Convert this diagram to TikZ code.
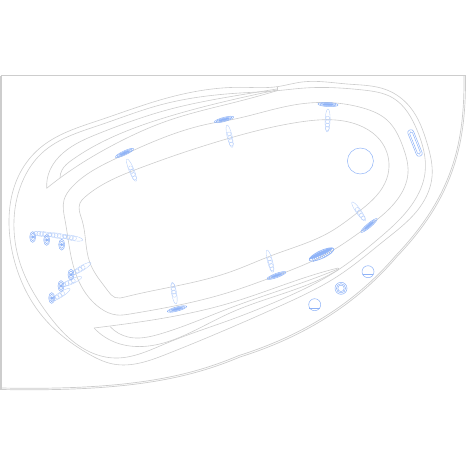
\documentclass[tikz,border=0pt]{standalone}
\usepackage{tikz}
\usepackage{color}
\usetikzlibrary{hobby}
\definecolor{rimgray}{HTML}{CDCDCD}
\definecolor{jetblue}{HTML}{8FB3F7}
\tikzstyle{rim} = [rimgray,line width=0.6pt,use Hobby shortcut]
\tikzstyle{jet} = [jetblue,line width=0.5pt]
\tikzstyle{jetpale} = [jetblue!65,line width=0.35pt]
% bar: x, y, angle, half length
\newcommand{\jetbar}[4]{
\begin{scope}[shift={(#1,#2)},rotate=#3]
\draw[jet] (0,0) ellipse [x radius=#4,y radius=2.1];
\draw[jet] (0,0) ellipse [x radius=#4*0.8,y radius=1.3];
\draw[jet,fill=jetblue] (0,0) ellipse [x radius=#4*0.55,y radius=0.8];
\end{scope}
}
% stem: x, y of the narrow end, angle, length
\newcommand{\jetstem}[4]{
\begin{scope}[shift={(#1,#2)},rotate=#3]
\draw[jetpale] (#4*0.5,0) ellipse [x radius=#4*0.5,y radius=2.5];
\foreach \t in {0.4,0.55,0.7,0.85}
{
\draw[jetpale] (#4*\t,0) circle (2);
}
\end{scope}
}
% head on the side wall: x, y
\newcommand{\jethead}[2]{
\draw[jet] (#1,#2) ellipse [x radius=3,y radius=5.4];
\draw[jet] (#1,#2) ellipse [x radius=2,y radius=3.6];
\draw[jet,fill=jetblue] (#1,#2) circle (1.2);
}
\begin{document}
\begin{tikzpicture}[x=1bp,y=-1bp]
\useasboundingbox (0,0) rectangle (467,467);

% shell
\draw[rimgray,line width=1.5pt] (1,389.5) -- (1,76);
\draw[rimgray,line width=1pt] (1,76) -- (465.5,76);
\draw[rimgray,line width=0.7pt] (465.5,76) .. controls (466,140) and (456,195) .. (397,256.5) .. controls (360,300) and (310,335) .. (240,357) .. controls (190,378) and (130,392) .. (1,389.5);
\draw[rimgray,line width=0.7pt] (464,76) .. controls (464.5,140) and (454.5,194) .. (395.8,255.5) .. controls (359,298.5) and (309,333.5) .. (239,355.5) .. controls (189,376.5) and (130,390.5) .. (1,388);

% outer rim
\draw[rim] ([closed]277,86.7) .. (302,82) .. (347,84) .. (387,90) .. (410,107) .. (427,143) .. (432,177) .. (420,207) .. (385,240) .. (338,276) .. (280,306) .. (230,328) .. (167,354) .. (113,364) .. (87,353) .. (43,317) .. (15,263) .. (9,220) .. (20,173) .. (40,148) .. (100,120) .. (160,100) .. (240,87.3);
% second rim
\draw[rim] ([closed]277,90.7) .. (305,88) .. (363,90) .. (393,98) .. (417,130) .. (425,173) .. (413,203) .. (377,240) .. (338,270) .. (280,300) .. (230,320) .. (167,343) .. (115,358) .. (90,352) .. (47,313) .. (20,263) .. (14,220) .. (24,178) .. (42,153) .. (100,125) .. (160,105) .. (240,93);
% foot well
\draw[rim] ([closed]230,120) .. (300,104) .. (363,108) .. (387,120) .. (403,147) .. (408,173) .. (397,200) .. (363,230) .. (330,252) .. (270,278) .. (230,292) .. (130,314) .. (117,315) .. (100,308) .. (77,277) .. (65,220) .. (64,200) .. (72,187) .. (117,158) .. (213,123);
% floor
\draw[rim] ([closed]230,138) .. (300,122) .. (363,127) .. (380,140) .. (389,167) .. (385,183) .. (357,213) .. (330,232) .. (273,255) .. (230,272) .. (125,297) .. (115,297.5) .. (108,291) .. (90,263) .. (82,220) .. (80,203) .. (85,197) .. (140,168);

% upper seat
\draw[rim] (46.7,188.3) .. (50,170) .. (63,153) .. (100,133) .. (167,110) .. (240,95) .. (277,89);
\draw[rim] (60,178) .. (62,170) .. (72,160) .. (117,135) .. (167,117) .. (240,98) .. (277,90);
\draw[rim] (46.7,188.3) .. (60,178) .. (117,143) .. (167,121) .. (240,101) .. (277,90.7);
\draw[rimgray,line width=0.6pt] (277,86.7) -- (277,90.7);

% lower seat
\draw[rim] (94,328) .. (110,326) .. (230,303) .. (323,272) .. (338,268);
\draw[rim] (110,326.5) .. (128,337) .. (160,334) .. (230,308) .. (323,275) .. (338,269);
\draw[rim] (94,328) .. (117,343) .. (130,346) .. (230,313) .. (323,278) .. (338,270);
\draw[rimgray,line width=0.6pt] (338,268) -- (338,270);

% fittings
\draw[jet] (360.4,161) circle (13);
\draw[jet] (314.7,304.7) circle (6);
\draw[jet] (309.3,308) -- (320.1,308);
\draw[jet] (368,271.7) circle (6);
\draw[jet] (362.6,274.5) -- (373.4,274.5);
\draw[jet] (341,288.3) circle (6);
\draw[jet] (341,288.3) circle (4.6);
\draw[jet] (341,288.3) circle (3.2);

% side grille
\begin{scope}[shift={(415,143)},rotate=-68]
\draw[jet,rounded corners=2.5] (-14,-3) rectangle (14,3);
\draw[jet,rounded corners=1.5] (-12,-1.5) rectangle (12,1.5);
\end{scope}

% big grille
\begin{scope}[shift={(321.5,254.5)},rotate=25]
\draw[jet,line width=0.7pt] (0,0) ellipse [x radius=13.5,y radius=3.8];
\draw[jet,fill=jetblue] (0,-1.2) ellipse [x radius=12.5,y radius=1.6];
\foreach \x in {-10,-8,...,10}
{
\draw[jet,line width=0.6pt] (\x,-1) -- (\x,3.3);
}
\end{scope}

% bars
\jetbar{124.5}{153}{25}{10}
\jetbar{224}{119.5}{15}{10}
\jetbar{328}{104.5}{-3}{10}
\jetbar{369}{225.5}{40}{10.5}
\jetbar{276.5}{275.5}{20}{10}
\jetbar{177}{309}{15}{10}

% stems
\jetstem{127}{159}{-68}{24}
\jetstem{227}{125}{-77}{23}
\jetstem{328}{109}{-92}{23}
\jetstem{352}{202}{-55}{23}
\jetstem{267}{250}{-75}{23}
\jetstem{176}{304}{100}{22}
\jetstem{52}{235}{174}{19}
\jetstem{67}{237}{172}{20}
\jetstem{82.7}{240}{169}{21}
\jetstem{91}{262.7}{211}{23}
\jetstem{81.7}{277}{204}{23}
\jetstem{70}{288.7}{213}{22}

% heads
\jethead{32.7}{237}
\jethead{46.7}{240}
\jethead{61.7}{244.7}
\jethead{71}{274.7}
\jethead{61}{286}
\jethead{51.7}{298}
\end{tikzpicture}
\end{document}
